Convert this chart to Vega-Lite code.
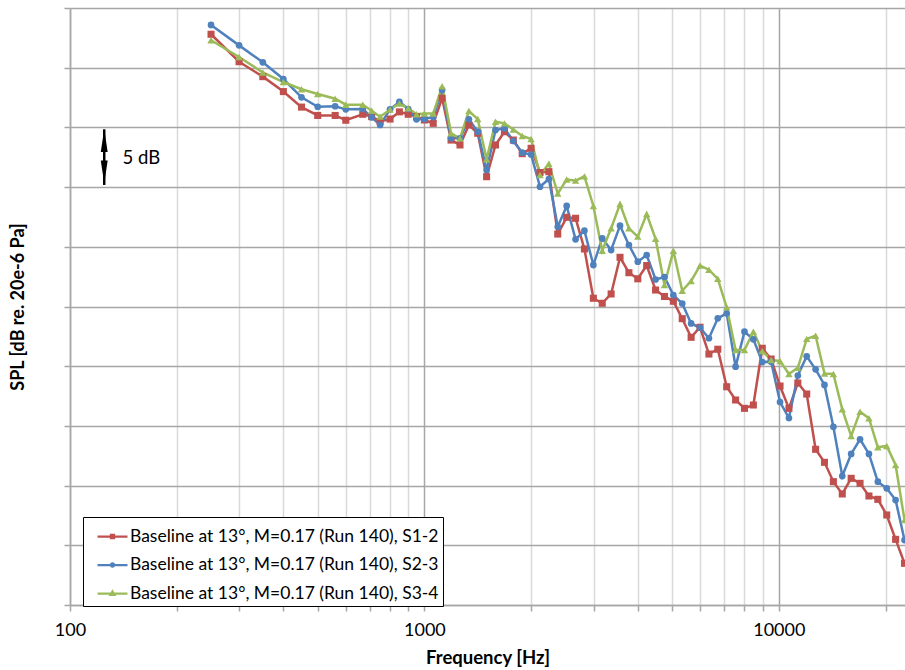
{
"$schema": "https://vega.github.io/schema/vega-lite/v6.json",
"width": 835, "height": 597,
"autosize": {"type": "none"},
"padding": {"left": 70, "top": 8, "right": 0, "bottom": 65},
"background": "white",
"config": {"view": {"stroke": null}, "font": "Lato"},
"datasets": {
"spl": [
{"s":"S1-2","f":250,"v":87.8},{"s":"S1-2","f":300,"v":85.5},{"s":"S1-2","f":350,"v":84.25},{"s":"S1-2","f":400,"v":83.0},{"s":"S1-2","f":450,"v":81.7},{"s":"S1-2","f":500,"v":81.0},{"s":"S1-2","f":560,"v":81.0},{"s":"S1-2","f":600,"v":80.6},{"s":"S1-2","f":670,"v":81.1},{"s":"S1-2","f":710,"v":80.9},{"s":"S1-2","f":750,"v":80.5},{"s":"S1-2","f":800,"v":80.7},{"s":"S1-2","f":850,"v":81.3},{"s":"S1-2","f":900,"v":81.1},{"s":"S1-2","f":950,"v":80.9},
{"s":"S1-2","f":1000,"v":80.62},{"s":"S1-2","f":1059,"v":80.34},{"s":"S1-2","f":1122,"v":82.44},{"s":"S1-2","f":1189,"v":78.94},{"s":"S1-2","f":1260,"v":78.53},{"s":"S1-2","f":1335,"v":80.2},{"s":"S1-2","f":1414,"v":79.51},{"s":"S1-2","f":1498,"v":75.87},{"s":"S1-2","f":1587,"v":78.53},{"s":"S1-2","f":1682,"v":79.64},{"s":"S1-2","f":1782,"v":78.94},{"s":"S1-2","f":1888,"v":77.8},{"s":"S1-2","f":2000,"v":78.25},{"s":"S1-2","f":2119,"v":76.22},{"s":"S1-2","f":2245,"v":76.29},{"s":"S1-2","f":2378,"v":71.07},{"s":"S1-2","f":2520,"v":72.47},{"s":"S1-2","f":2670,"v":72.39},{"s":"S1-2","f":2828,"v":69.82},{"s":"S1-2","f":2997,"v":65.69},{"s":"S1-2","f":3175,"v":65.27},{"s":"S1-2","f":3364,"v":66.05},{"s":"S1-2","f":3564,"v":69.12},{"s":"S1-2","f":3776,"v":67.83},{"s":"S1-2","f":4000,"v":67.32},{"s":"S1-2","f":4238,"v":68.43},{"s":"S1-2","f":4490,"v":66.38},{"s":"S1-2","f":4757,"v":65.84},{"s":"S1-2","f":5040,"v":65.44},{"s":"S1-2","f":5339,"v":63.98},{"s":"S1-2","f":5657,"v":62.42},{"s":"S1-2","f":5993,"v":63.26},{"s":"S1-2","f":6350,"v":61.02},{"s":"S1-2","f":6727,"v":61.42},{"s":"S1-2","f":7127,"v":58.28},{"s":"S1-2","f":7551,"v":57.17},{"s":"S1-2","f":8000,"v":56.47},{"s":"S1-2","f":8476,"v":56.75},{"s":"S1-2","f":8980,"v":61.5},{"s":"S1-2","f":9514,"v":60.6},{"s":"S1-2","f":10079,"v":58.34},{"s":"S1-2","f":10679,"v":56.47},{"s":"S1-2","f":11314,"v":58.59},{"s":"S1-2","f":11987,"v":57.67},{"s":"S1-2","f":12699,"v":53.04},{"s":"S1-2","f":13454,"v":51.95},{"s":"S1-2","f":14254,"v":50.33},{"s":"S1-2","f":15102,"v":49.3},{"s":"S1-2","f":16000,"v":50.61},{"s":"S1-2","f":16951,"v":50.19},{"s":"S1-2","f":17959,"v":49.13},{"s":"S1-2","f":19027,"v":48.85},{"s":"S1-2","f":20159,"v":47.54},{"s":"S1-2","f":21357,"v":45.5},{"s":"S1-2","f":22627,"v":43.49},
{"s":"S2-3","f":250,"v":88.58},{"s":"S2-3","f":300,"v":86.87},{"s":"S2-3","f":350,"v":85.45},{"s":"S2-3","f":400,"v":84.05},{"s":"S2-3","f":450,"v":82.52},{"s":"S2-3","f":500,"v":81.73},{"s":"S2-3","f":560,"v":81.77},{"s":"S2-3","f":600,"v":81.51},{"s":"S2-3","f":670,"v":81.54},{"s":"S2-3","f":710,"v":80.84},{"s":"S2-3","f":750,"v":80.2},{"s":"S2-3","f":800,"v":81.51},{"s":"S2-3","f":850,"v":82.13},{"s":"S2-3","f":900,"v":81.54},{"s":"S2-3","f":950,"v":80.68},
{"s":"S2-3","f":1000,"v":80.7},{"s":"S2-3","f":1059,"v":80.87},{"s":"S2-3","f":1122,"v":83.13},{"s":"S2-3","f":1189,"v":79.09},{"s":"S2-3","f":1260,"v":79.09},{"s":"S2-3","f":1335,"v":80.68},{"s":"S2-3","f":1414,"v":79.64},{"s":"S2-3","f":1498,"v":76.43},{"s":"S2-3","f":1587,"v":79.78},{"s":"S2-3","f":1682,"v":79.92},{"s":"S2-3","f":1782,"v":78.86},{"s":"S2-3","f":1888,"v":77.88},{"s":"S2-3","f":2000,"v":77.73},{"s":"S2-3","f":2119,"v":75.03},{"s":"S2-3","f":2245,"v":75.68},{"s":"S2-3","f":2378,"v":71.68},{"s":"S2-3","f":2520,"v":73.42},{"s":"S2-3","f":2670,"v":70.63},{"s":"S2-3","f":2828,"v":71.35},{"s":"S2-3","f":2997,"v":68.48},{"s":"S2-3","f":3175,"v":70.71},{"s":"S2-3","f":3364,"v":69.73},{"s":"S2-3","f":3564,"v":71.77},{"s":"S2-3","f":3776,"v":70.15},{"s":"S2-3","f":4000,"v":68.75},{"s":"S2-3","f":4238,"v":69.31},{"s":"S2-3","f":4490,"v":67.26},{"s":"S2-3","f":4757,"v":67.47},{"s":"S2-3","f":5040,"v":65.96},{"s":"S2-3","f":5339,"v":65.25},{"s":"S2-3","f":5657,"v":63.58},{"s":"S2-3","f":5993,"v":63.22},{"s":"S2-3","f":6350,"v":62.34},{"s":"S2-3","f":6727,"v":64.01},{"s":"S2-3","f":7127,"v":64.43},{"s":"S2-3","f":7551,"v":59.96},{"s":"S2-3","f":8000,"v":62.89},{"s":"S2-3","f":8476,"v":62.25},{"s":"S2-3","f":8980,"v":60.35},{"s":"S2-3","f":9514,"v":60.38},{"s":"S2-3","f":10079,"v":57.0},{"s":"S2-3","f":10679,"v":55.66},{"s":"S2-3","f":11314,"v":59.22},{"s":"S2-3","f":11987,"v":60.83},{"s":"S2-3","f":12699,"v":59.74},{"s":"S2-3","f":13454,"v":58.43},{"s":"S2-3","f":14254,"v":54.93},{"s":"S2-3","f":15102,"v":50.8},{"s":"S2-3","f":16000,"v":52.65},{"s":"S2-3","f":16951,"v":53.88},{"s":"S2-3","f":17959,"v":52.65},{"s":"S2-3","f":19027,"v":50.33},{"s":"S2-3","f":20159,"v":49.77},{"s":"S2-3","f":21357,"v":48.79},{"s":"S2-3","f":22627,"v":45.44},
{"s":"S3-4","f":250,"v":87.3},{"s":"S3-4","f":300,"v":85.9},{"s":"S3-4","f":350,"v":84.6},{"s":"S3-4","f":400,"v":83.8},{"s":"S3-4","f":450,"v":83.2},{"s":"S3-4","f":500,"v":82.8},{"s":"S3-4","f":560,"v":82.4},{"s":"S3-4","f":600,"v":81.9},{"s":"S3-4","f":670,"v":81.9},{"s":"S3-4","f":710,"v":81.4},{"s":"S3-4","f":750,"v":80.9},{"s":"S3-4","f":800,"v":81.5},{"s":"S3-4","f":850,"v":82.0},{"s":"S3-4","f":900,"v":81.6},{"s":"S3-4","f":950,"v":81.1},
{"s":"S3-4","f":1000,"v":81.16},{"s":"S3-4","f":1059,"v":81.16},{"s":"S3-4","f":1122,"v":83.44},{"s":"S3-4","f":1189,"v":79.51},{"s":"S3-4","f":1260,"v":79.09},{"s":"S3-4","f":1335,"v":81.37},{"s":"S3-4","f":1414,"v":80.7},{"s":"S3-4","f":1498,"v":77.33},{"s":"S3-4","f":1587,"v":80.48},{"s":"S3-4","f":1682,"v":80.34},{"s":"S3-4","f":1782,"v":79.82},{"s":"S3-4","f":1888,"v":79.28},{"s":"S3-4","f":2000,"v":79.03},{"s":"S3-4","f":2119,"v":76.01},{"s":"S3-4","f":2245,"v":76.96},{"s":"S3-4","f":2378,"v":74.46},{"s":"S3-4","f":2520,"v":75.64},{"s":"S3-4","f":2670,"v":75.54},{"s":"S3-4","f":2828,"v":75.9},{"s":"S3-4","f":2997,"v":73.42},{"s":"S3-4","f":3175,"v":69.67},{"s":"S3-4","f":3364,"v":71.55},{"s":"S3-4","f":3564,"v":73.58},{"s":"S3-4","f":3776,"v":71.55},{"s":"S3-4","f":4000,"v":70.85},{"s":"S3-4","f":4238,"v":72.75},{"s":"S3-4","f":4490,"v":70.67},{"s":"S3-4","f":4757,"v":66.8},{"s":"S3-4","f":5040,"v":69.67},{"s":"S3-4","f":5339,"v":66.32},{"s":"S3-4","f":5657,"v":67.14},{"s":"S3-4","f":5993,"v":68.43},{"s":"S3-4","f":6350,"v":68.08},{"s":"S3-4","f":6727,"v":67.32},{"s":"S3-4","f":7127,"v":64.93},{"s":"S3-4","f":7551,"v":61.36},{"s":"S3-4","f":8000,"v":61.36},{"s":"S3-4","f":8476,"v":62.89},{"s":"S3-4","f":8980,"v":61.27},{"s":"S3-4","f":9514,"v":60.52},{"s":"S3-4","f":10079,"v":60.44},{"s":"S3-4","f":10679,"v":59.35},{"s":"S3-4","f":11314,"v":59.87},{"s":"S3-4","f":11987,"v":62.29},{"s":"S3-4","f":12699,"v":62.55},{"s":"S3-4","f":13454,"v":59.39},{"s":"S3-4","f":14254,"v":59.35},{"s":"S3-4","f":15102,"v":56.39},{"s":"S3-4","f":16000,"v":54.15},{"s":"S3-4","f":16951,"v":56.19},{"s":"S3-4","f":17959,"v":55.64},{"s":"S3-4","f":19027,"v":53.21},{"s":"S3-4","f":20159,"v":53.32},{"s":"S3-4","f":21357,"v":51.73},{"s":"S3-4","f":22627,"v":47.12}
],
"shaft": [{"f":124.9,"v":79.84,"v2":75.18}],
"headUp": [{"f":124.9,"v":78.9}],
"headDown": [{"f":124.9,"v":76.26}],
"note": [{"f":140.6,"v":77.44,"t":"5 dB"}]
},
"layer": [
{
"data": {"name": "spl"},
"mark": {"type": "line", "strokeWidth": 2.5},
"encoding": {
"x": {"field": "f", "type": "quantitative", "scale": {"type": "log", "domain": [100, 22700], "nice": false},
"axis": {"title": "Frequency [Hz]", "values": [100,200,300,400,500,600,700,800,900,1000,2000,3000,4000,5000,6000,7000,8000,9000,10000,20000],
"labelExpr": "datum.value==100||datum.value==1000||datum.value==10000 ? format(datum.value,'d') : ''",
"labelFlush": false, "labelOverlap": false, "labelFontSize": 18, "labelColor": "#000", "labelPadding": 10,
"tickSize": 6, "tickColor": "#a6a6a6", "tickWidth": 1.5, "domainColor": "#a6a6a6", "domainWidth": 1.5,
"gridColor": {"condition": {"test": "datum.value==100||datum.value==1000||datum.value==10000", "value": "#a6a6a6"}, "value": "#d9d9d9"},
"gridWidth": 1.5, "titleFontSize": 18.5, "titleFontWeight": "bold", "titleColor": "#000", "titlePadding": 9}},
"y": {"field": "v", "type": "quantitative", "scale": {"domain": [40, 90], "nice": false, "zero": false},
"axis": {"title": "SPL [dB re. 20e-6 Pa]", "values": [40,45,50,55,60,65,70,75,80,85,90], "labels": false,
"tickSize": 6, "tickColor": "#a6a6a6", "tickWidth": 1.5, "domainColor": "#a6a6a6", "domainWidth": 1.5,
"gridColor": "#a6a6a6", "gridWidth": 1.5, "titleFontSize": 18, "titleFontWeight": "bold", "titleColor": "#000", "titlePadding": 36}},
"color": {"field": "s", "type": "nominal", "scale": {"domain": ["S1-2","S2-3","S3-4"], "range": ["#C0504D","#4F81BD","#9BBB59"]},
"legend": {"orient": "none", "legendX": 13, "legendY": 509, "title": null,
"labelExpr": "'Baseline at 13°, M=0.17 (Run 140), ' + datum.label + '\u2002'",
"labelFontSize": 17.5, "labelColor": "#000", "labelOffset": 2, "labelLimit": 500,
"symbolSize": 784, "symbolStrokeWidth": 2.25, "symbolOffset": 10, "padding": 4, "rowPadding": 4.5,
"strokeColor": "#000", "fillColor": "#fff",
"encode": {"symbols": {"update": {
"shape": {"signal": "datum.value==='S1-2' ? 'M-1.07,0H1.07M-0.11,-0.11H0.11V0.11H-0.11Z' : datum.value==='S2-3' ? 'M-1.07,0H1.07M0.11,0A0.11,0.11,0,1,1,-0.11,0A0.11,0.11,0,1,1,0.11,0Z' : 'M-1.07,0H1.07M0,-0.14L0.14,0.1L-0.14,0.1Z'"},
"fill": {"scale": "color", "field": "value"},
"stroke": {"scale": "color", "field": "value"},
"strokeWidth": {"value": 2.25},
"opacity": {"value": 1}}}}}}
}
},
{
"data": {"name": "spl"},
"transform": [{"filter": "datum.s === 'S1-2'"}],
"mark": {"type": "point", "filled": true, "opacity": 1, "size": 50, "shape": "square"},
"encoding": {"x": {"field": "f", "type": "quantitative"}, "y": {"field": "v", "type": "quantitative"}, "color": {"field": "s", "type": "nominal"}}
},
{
"data": {"name": "spl"},
"transform": [{"filter": "datum.s === 'S2-3'"}],
"mark": {"type": "point", "filled": true, "opacity": 1, "size": 45, "shape": "circle"},
"encoding": {"x": {"field": "f", "type": "quantitative"}, "y": {"field": "v", "type": "quantitative"}, "color": {"field": "s", "type": "nominal"}}
},
{
"data": {"name": "spl"},
"transform": [{"filter": "datum.s === 'S3-4'"}],
"mark": {"type": "point", "filled": true, "opacity": 1, "size": 55, "shape": "triangle-up"},
"encoding": {"x": {"field": "f", "type": "quantitative"}, "y": {"field": "v", "type": "quantitative"}, "color": {"field": "s", "type": "nominal"}}
},
{
"data": {"name": "shaft"},
"mark": {"type": "rule", "color": "#000", "strokeWidth": 2.5},
"encoding": {"x": {"field": "f", "type": "quantitative"}, "y": {"field": "v", "type": "quantitative"}, "y2": {"field": "v2"}}
},
{
"data": {"name": "headUp"},
"mark": {"type": "point", "filled": true, "color": "#000", "opacity": 1, "size": 529, "shape": "M0,-1L0.3,1L-0.3,1Z"},
"encoding": {"x": {"field": "f", "type": "quantitative"}, "y": {"field": "v", "type": "quantitative"}}
},
{
"data": {"name": "headDown"},
"mark": {"type": "point", "filled": true, "color": "#000", "opacity": 1, "size": 529, "shape": "M0,1L0.3,-1L-0.3,-1Z"},
"encoding": {"x": {"field": "f", "type": "quantitative"}, "y": {"field": "v", "type": "quantitative"}}
},
{
"data": {"name": "note"},
"mark": {"type": "text", "align": "left", "baseline": "middle", "fontSize": 18.5, "color": "#000"},
"encoding": {"x": {"field": "f", "type": "quantitative"}, "y": {"field": "v", "type": "quantitative"}, "text": {"field": "t"}}
},
{
"mark": {"type": "rule", "color": "#000", "strokeWidth": 1.5},
"encoding": {"y": {"datum": 90, "type": "quantitative"}}
}
]
}
